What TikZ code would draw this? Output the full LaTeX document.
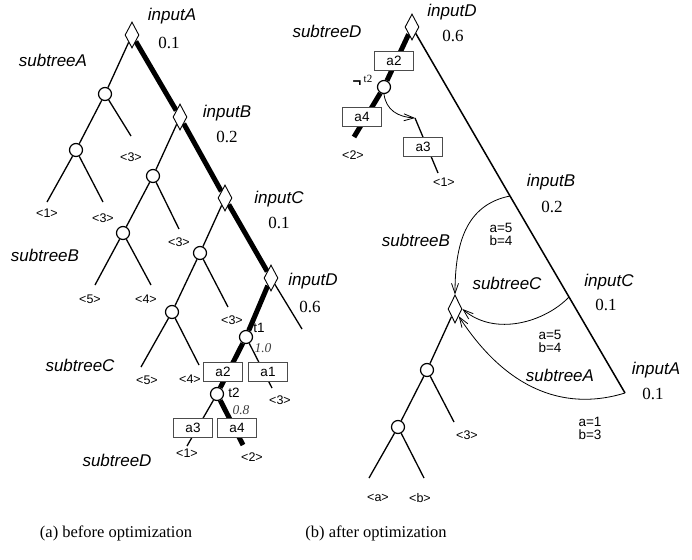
\documentclass[tikz,border=0pt]{standalone}
\usepackage{fontspec}
\setmainfont{Liberation Serif}
\setsansfont{Liberation Sans}
\usetikzlibrary{shapes.geometric,arrows.meta}
\pgfdeclarelayer{bg}
\pgfsetlayers{bg,main}
\begin{document}
\begin{tikzpicture}[x=1pt,y=-1pt,
  dia/.style={diamond,draw,fill=white,line width=0.9pt,inner sep=0pt,minimum width=14pt,minimum height=26pt},
  circ/.style={circle,draw,fill=white,line width=1.2pt,inner sep=0pt,minimum size=13pt},
  abox/.style={draw=black!70,fill=white,line width=0.9pt,inner sep=0pt,minimum width=39pt,minimum height=19pt,font=\sffamily\fontsize{13.5}{14}\selectfont},
  edge/.style={line width=1.3pt},
  heavy/.style={line width=5pt},
  longline/.style={line width=1.5pt},
  curvearrow/.style={line width=0.8pt,-{Straight Barb[length=10pt,width=7pt,line width=0.8pt]}},
  lab/.style={font=\sffamily\itshape\fontsize{17}{17}\selectfont},
  num/.style={font=\fontsize{17}{17}\selectfont},
  leaf/.style={font=\sffamily\fontsize{12.5}{13}\selectfont},
  small/.style={font=\sffamily\fontsize{13.5}{13}\selectfont,align=center},
  prob/.style={font=\itshape\fontsize{13.5}{14}\selectfont,text=black!75},
  negsym/.style={font=\sffamily\bfseries\fontsize{15}{15}\selectfont},
  tinylab/.style={font=\fontsize{11}{11}\selectfont},
  captxt/.style={font=\fontsize{16.5}{17}\selectfont}
]
\useasboundingbox (0,0) rectangle (692,559);

% ---------------- left tree (a) ----------------
\node[dia] (iA) at (132,35) {};
\node[dia] (iB) at (180,117) {};
\node[dia] (iC) at (225,198) {};
\node[dia] (iD) at (271,278) {};
\node[circ] (c1) at (105,94) {};
\node[circ] (c2) at (76,150) {};
\node[circ] (c3) at (153,176) {};
\node[circ] (c4) at (123,233) {};
\node[circ] (c5) at (200,253) {};
\node[circ] (c6) at (172,312) {};
\node[circ] (t1) at (246,337) {};
\node[circ] (t2) at (217,394) {};
\node[abox] (la2) at (223,372) {a2};
\node[abox] (la1) at (268,372) {a1};
\node[abox] (la3) at (193,428) {a3};
\node[abox] (la4) at (237,428) {a4};

\coordinate (e1) at (131,136);
\coordinate (e2) at (47,202);
\coordinate (e3) at (103,202);
\coordinate (e4) at (179,229);
\coordinate (e5) at (95,285);
\coordinate (e6) at (151,285);
\coordinate (e7) at (228,307);
\coordinate (e8) at (141,367);
\coordinate (e9) at (199,365);
\coordinate (e10) at (302,329);
\coordinate (e11) at (272,388);
\coordinate (e12) at (187,446);
\coordinate (e13) at (243,445);

\begin{pgfonlayer}{bg}
\draw[heavy] (iA) -- (iB);
\draw[heavy] (iB) -- (iC);
\draw[heavy] (iC) -- (iD);
\draw[heavy] (iD) -- (t1);
\draw[heavy] (t1) -- (t2);
\draw[heavy] (t2) -- (e13);
\draw[edge] (iA) -- (c1);
\draw[edge] (c1) -- (c2);
\draw[edge] (c1) -- (e1);
\draw[edge] (c2) -- (e2);
\draw[edge] (c2) -- (e3);
\draw[edge] (iB) -- (c3);
\draw[edge] (c3) -- (c4);
\draw[edge] (c3) -- (e4);
\draw[edge] (c4) -- (e5);
\draw[edge] (c4) -- (e6);
\draw[edge] (iC) -- (c5);
\draw[edge] (c5) -- (c6);
\draw[edge] (c5) -- (e7);
\draw[edge] (c6) -- (e8);
\draw[edge] (c6) -- (e9);
\draw[edge] (iD) -- (e10);
\draw[edge] (t1) -- (e11);
\draw[edge] (t2) -- (e12);
\end{pgfonlayer}

\node[lab] (tA) at (172,16) {inputA};
\node[num] (pA) at (169,43) {0.1};
\node[lab] (sA) at (53,60) {subtreeA};
\node[lab] (tB) at (227,113) {inputB};
\node[num] (pB) at (227,137) {0.2};
\node[lab] (tC) at (279,199) {inputC};
\node[num] (pC) at (279,223) {0.1};
\node[lab] (sB) at (45,255) {subtreeB};
\node[lab] (tD) at (313,281) {inputD};
\node[num] (pD) at (310,307) {0.6};
\node[lab] (sC) at (80,365) {subtreeC};
\node[lab] (sD) at (117,460) {subtreeD};

\node[leaf] (l1) at (47,213) {<1>};
\node[leaf] (l2) at (103,218) {<3>};
\node[leaf] (l3) at (131,157) {<3>};
\node[leaf] (l4) at (179,242) {<3>};
\node[leaf] (l5) at (90,299) {<5>};
\node[leaf] (l6) at (146,299) {<4>};
\node[leaf] (l7) at (232,320) {<3>};
\node[leaf] (l8) at (147,380) {<5>};
\node[leaf] (l9) at (190,379) {<4>};
\node[leaf] (l10) at (280,400) {<3>};
\node[leaf] (l11) at (187,453) {<1>};
\node[leaf] (l12) at (252,457) {<2>};

\node[small] (tt1) at (259,328) {t1};
\node[prob] (p1) at (263,348) {1.0};
\node[small] (tt2) at (234,393) {t2};
\node[prob] (p2) at (241,410) {0.8};

% ---------------- right tree (b) ----------------
\node[dia] (rD) at (412,27) {};
\node[abox] (ra2) at (394,61) {a2};
\node[circ] (rt2) at (384,87) {};
\node[abox] (ra4) at (362,117) {a4};
\node[abox] (ra3) at (423,147) {a3};
\node[dia,minimum height=28pt] (d2) at (455,309) {};
\node[circ] (r1) at (427,370) {};
\node[circ] (r2) at (398,427) {};

\coordinate (re1) at (354,137);
\coordinate (r3top) at (415,118);
\coordinate (re2) at (438,173);
\coordinate (pB2) at (510,196);
\coordinate (pC2) at (569,297);
\coordinate (pA2) at (625,393);
\coordinate (re3) at (454,422);
\coordinate (re4) at (369,478);
\coordinate (re5) at (424,478);

\begin{pgfonlayer}{bg}
\draw[heavy] (rD) -- (rt2);
\draw[heavy] (rt2) -- (re1);
\draw[edge] (r3top) -- (re2);
\draw[longline] (rD) -- (pB2) -- (pC2) -- (pA2);
\draw[edge] (d2) -- (r1);
\draw[edge] (r1) -- (r2);
\draw[edge] (r1) -- (re3);
\draw[edge] (r2) -- (re4);
\draw[edge] (r2) -- (re5);
\end{pgfonlayer}

\draw[curvearrow] (rt2.south) .. controls (386,110) and (398,117) .. (r3top);
\draw[curvearrow] (pB2) .. controls (465,205) and (455,245) .. (d2.north);
\draw[curvearrow] (pC2) .. controls (545,322) and (495,337) .. (d2.east);
\draw[curvearrow] (pA2) .. controls (570,410) and (510,395) .. (d2.south east);

\node[lab] (rtD) at (452,12) {inputD};
\node[num] (rpD) at (453,36) {0.6};
\node[lab] (rsD) at (327,31) {subtreeD};
\node[negsym] (neg) at (357,84) {¬};
\node[tinylab] (nt2) at (368,79) {t2};
\node[leaf] (rl1) at (353,155) {<2>};
\node[leaf] (rl2) at (444,182) {<1>};

\node[lab] (rtB) at (551,182) {inputB};
\node[num] (rpB) at (552,207) {0.2};
\node[small] (ab1) at (501,234) {a=5\\b=4};
\node[lab] (rsB) at (416,240) {subtreeB};
\node[lab] (rsC) at (507,283) {subtreeC};
\node[lab] (rtC) at (609,282) {inputC};
\node[num] (rpC) at (606,305) {0.1};
\node[small] (ab2) at (550,341) {a=5\\b=4};
\node[lab] (rsA) at (560,375) {subtreeA};
\node[lab] (rtA) at (656,370) {inputA};
\node[num] (rpA) at (653,394) {0.1};
\node[small] (ab3) at (590,428) {a=1\\b=3};
\node[leaf] (rl3) at (467,435) {<3>};
\node[leaf] (rl4) at (378,498) {<a>};
\node[leaf] (rl5) at (420,498) {<b>};

% ---------------- captions ----------------
\node[captxt] (capa) at (116,533) {(a) before optimization};
\node[captxt] (capb) at (376,533) {(b) after optimization};
\end{tikzpicture}
\end{document}
